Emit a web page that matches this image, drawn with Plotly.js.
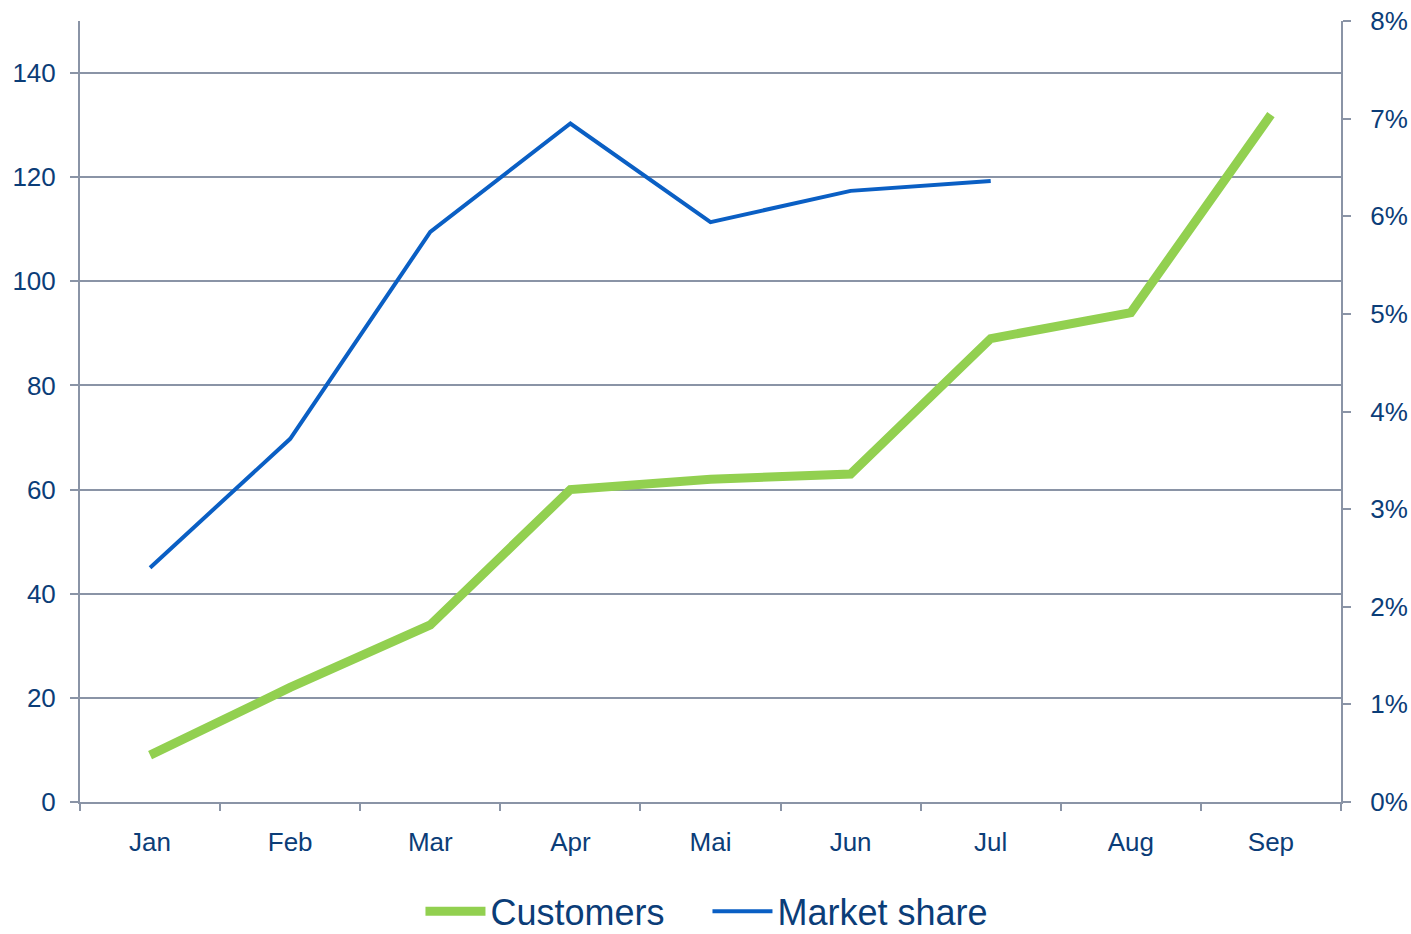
<!DOCTYPE html>
<html>
<head>
<meta charset="utf-8">
<script src="https://cdn.plot.ly/plotly-3.0.1.min.js"></script>
<style>html,body{margin:0;padding:0;background:#fff;}#chart{width:1411px;height:934px;}</style>
</head>
<body>
<div id="chart"></div>
<script>
const months = ["Jan","Feb","Mar","Apr","Mai","Jun","Jul","Aug","Sep"];
const customers = [9, 22, 34, 60, 62, 63, 89, 94, 132];
const marketShareMonths = ["Jan","Feb","Mar","Apr","Mai","Jun","Jul"];
const marketShare = [0.024, 0.0372, 0.0584, 0.0695, 0.0594, 0.0626, 0.0636];

const textColor = "#0b3d78";
const axisColor = "#8a94a6";
const font = "Liberation Sans, Arial, sans-serif";

const traces = [
  {x: months, y: customers, type: "scatter", mode: "lines", name: "Customers",
   line: {color: "#92d050", width: 9}, yaxis: "y"},
  {x: marketShareMonths, y: marketShare, type: "scatter", mode: "lines", name: "Market share",
   line: {color: "#0a5fc4", width: 4}, yaxis: "y2"}
];

const layout = {
  width: 1411, height: 934,
  margin: {l: 80, r: 70, t: 21, b: 132, autoexpand: false},
  paper_bgcolor: "#fff", plot_bgcolor: "#fff",
  font: {family: font, color: textColor, size: 26},
  showlegend: true,
  hovermode: false,
  legend: {orientation: "h", x: 0.27, xanchor: "left", y: -0.14, yanchor: "middle",
           font: {size: 36, color: textColor, family: font}, itemwidth: 60, entrywidth: 212},
  xaxis: {type: "category", range: [-0.5, 8.5], showgrid: false, zeroline: false,
          showline: true, linecolor: axisColor, linewidth: 2,
          ticks: "outside", tickson: "boundaries", ticklen: 7, tickcolor: axisColor, tickwidth: 2,
          ticklabelstandoff: 16, tickfont: {size: 26, color: textColor}},
  yaxis: {range: [0, 150], dtick: 20, tick0: 0, showgrid: true, gridcolor: axisColor, gridwidth: 2,
          zeroline: false, showline: true, linecolor: axisColor, linewidth: 2,
          ticks: "outside", ticklen: 8, tickcolor: axisColor, tickwidth: 2,
          ticklabelstandoff: 9, tickfont: {size: 26, color: textColor}},
  yaxis2: {range: [0, 0.08], dtick: 0.01, tick0: 0, tickformat: ".0%", overlaying: "y", side: "right",
           showgrid: false, zeroline: false, showline: true, linecolor: axisColor, linewidth: 2,
           ticks: "outside", ticklen: 8, tickcolor: axisColor, tickwidth: 2,
           ticklabelstandoff: 14, tickfont: {size: 26, color: textColor}}
};

Plotly.newPlot("chart", traces, layout, {displayModeBar: false, staticPlot: true});
</script>
</body>
</html>
